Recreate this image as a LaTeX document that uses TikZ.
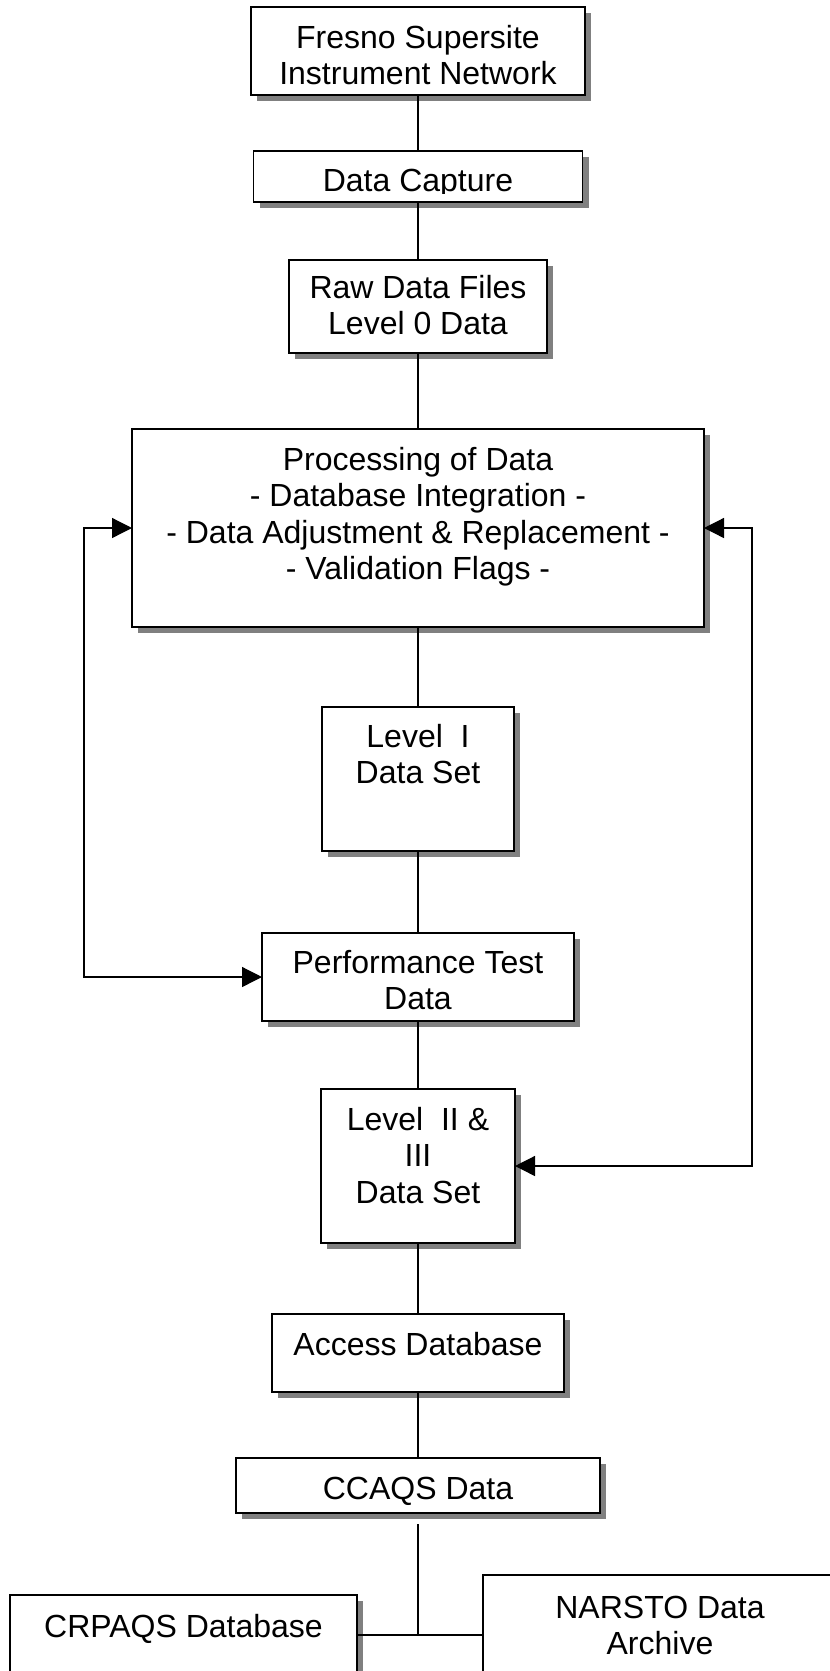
\documentclass[tikz,border=0pt]{standalone}
\usepackage{fontspec}
\setmainfont{Liberation Sans}
\usetikzlibrary{arrows.meta,shadows}
\begin{document}
\begin{tikzpicture}[x=1pt,y=-1pt,
  >={Triangle[length=20pt,width=20pt]},
  box/.style={draw=black, fill=white, line width=1.8pt, inner sep=0pt, outer sep=0pt,
    drop shadow={shadow xshift=6pt, shadow yshift=-6pt, fill=black!50, opacity=1}},
  lbl/.style={font=\fontsize{32}{36.5}\selectfont, align=center, inner sep=0pt, anchor=north},
  conn/.style={line width=1.3pt}]
\useasboundingbox (0,0) rectangle (830,1671);
\clip (0,0) rectangle (830,1671);
\fill[white] (0,0) rectangle (830,1671);

% boxes
\node[box, minimum width=334pt, minimum height=88pt] (fresno) at (418,51) {};
\node[box, minimum width=329pt, minimum height=51pt] (capture) at (418,176.5) {};
\node[box, minimum width=258pt, minimum height=93pt] (raw) at (418,306.5) {};
\node[box, minimum width=572pt, minimum height=198pt] (proc) at (418,528) {};
\node[box, minimum width=192pt, minimum height=144pt] (lvlone) at (418,779) {};
\node[box, minimum width=312pt, minimum height=88pt] (perf) at (418,977) {};
\node[box, minimum width=194pt, minimum height=154pt] (lvltwo) at (418,1166) {};
\node[box, minimum width=292pt, minimum height=78pt] (access) at (418,1353) {};
\node[box, minimum width=364pt, minimum height=55pt] (ccaqs) at (418,1485.5) {};
\node[box, minimum width=347pt, minimum height=130pt] (crpaqs) at (183.5,1660) {};
\node[box, minimum width=354pt, minimum height=150pt] (narsto) at (660,1650) {};

% labels (first baseline about 41 below box top)
\node[lbl] (tfresno) at (418,7+17) {\rule{0pt}{24pt}Fresno Supersite\\Instrument Network};
\begin{scope}
  \clip (253,151) rectangle (582,193);
  \node[lbl] (tcapture) at (418,151+16) {\rule{0pt}{24pt}Data Capture};
\end{scope}
\node[lbl] (traw) at (418,260+14) {\rule{0pt}{24pt}Raw Data Files\\Level 0 Data};
\node[lbl] (tproc) at (418,429+17) {\rule{0pt}{24pt}Processing of Data\\- Database Integration -\\- Data Adjustment \& Replacement -\\- Validation Flags -};
\node[lbl] (tlvlone) at (418,707+16) {\rule{0pt}{24pt}Level\ \ I\\Data Set};
\node[lbl] (tperf) at (418,933+16) {\rule{0pt}{24pt}Performance Test\\Data};
\node[lbl] (tlvltwo) at (418,1089+17) {\rule{0pt}{24pt}Level\ \ II \&\\III\\Data Set};
\node[lbl] (taccess) at (418,1314+17) {\rule{0pt}{24pt}Access Database};
\node[lbl] (tccaqs) at (418,1458+17) {\rule{0pt}{24pt}CCAQS Data};
\node[lbl] (tcrpaqs) at (183.5,1595+18) {\rule{0pt}{24pt}CRPAQS Database};
\node[lbl] (tnarsto) at (660,1575+19) {\rule{0pt}{24pt}NARSTO Data\\Archive};

% vertical chain
\draw[conn] (fresno.south) -- (capture.north);
\draw[conn] (capture.south) -- (raw.north);
\draw[conn] (raw.south) -- (proc.north);
\draw[conn] (proc.south) -- (lvlone.north);
\draw[conn] (lvlone.south) -- (perf.north);
\draw[conn] (perf.south) -- (lvltwo.north);
\draw[conn] (lvltwo.south) -- (access.north);
\draw[conn] (access.south) -- (ccaqs.north);

% bottom junction
\coordinate (jtop) at (418,1524);
\coordinate (junc) at (418,1635);
\draw[conn] (jtop) -- (junc);
\draw[conn] (crpaqs.east |- junc) -- (narsto.west |- junc);

% feedback loops
\draw[conn, <->] (proc.west) -- ++(-48,0) |- (perf.west);
\draw[conn, <->] (proc.east) -- ++(48,0) |- (lvltwo.east);
\end{tikzpicture}
\end{document}
